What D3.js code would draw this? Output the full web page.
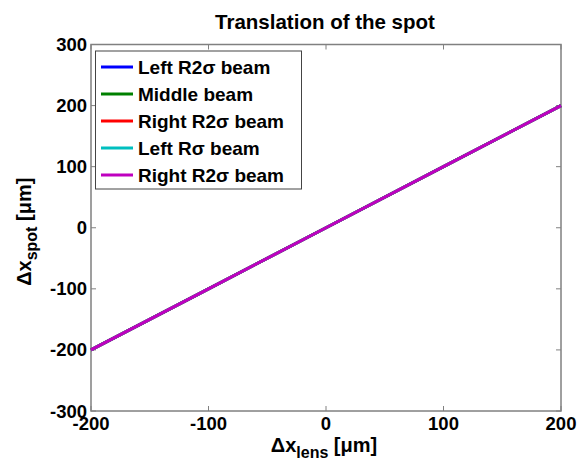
<!DOCTYPE html>
<html><head><meta charset="utf-8">
<script src="https://cdn.jsdelivr.net/npm/d3@7"></script>
<style>body{margin:0;background:#fff}svg{display:block}text{font-family:"Liberation Sans",Arial,sans-serif;font-weight:bold;fill:#000}</style>
</head><body>
<script>
const xValues = [-200, -100, 0, 100, 200];
const seriesNames = ["Left R2σ beam", "Middle beam", "Right R2σ beam", "Left Rσ beam", "Right R2σ beam"];
const seriesColors = ["#0000ff", "#008000", "#ff0000", "#00bfbf", "#bf00bf"];
const leftR2 = [-200, -100, 0, 100, 200];
const middle = [-200, -100, 0, 100, 200];
const rightR2 = [-200, -100, 0, 100, 200];
const leftR1 = [-200, -100, 0, 100, 200];
const rightR2b = [-200, -100, 0, 100, 200];
const seriesValues = [leftR2, middle, rightR2, leftR1, rightR2b];
const xTicks = [-200, -100, 0, 100, 200];
const yTicks = [-300, -200, -100, 0, 100, 200, 300];

const W = 578, H = 465;
const m = {l: 91, r: 561, t: 44.5, b: 411};
const svg = d3.select("body").append("svg").attr("width", W).attr("height", H);
const x = d3.scaleLinear().domain([-200, 200]).range([m.l, m.r]);
const y = d3.scaleLinear().domain([-300, 300]).range([m.b, m.t]);

const axisColor = "#808080";
const g = svg.append("g");
xTicks.forEach(t => {
  g.append("line").attr("x1", x(t)).attr("x2", x(t)).attr("y1", m.b).attr("y2", m.b - 5).attr("stroke", axisColor);
  g.append("line").attr("x1", x(t)).attr("x2", x(t)).attr("y1", m.t).attr("y2", m.t + 5).attr("stroke", axisColor);
  g.append("text").attr("x", x(t)).attr("y", m.b + 19).attr("text-anchor", "middle").style("font-size", "18.5px").text(t);
});
yTicks.forEach(t => {
  g.append("line").attr("x1", m.l).attr("x2", m.l + 5).attr("y1", y(t)).attr("y2", y(t)).attr("stroke", axisColor);
  g.append("line").attr("x1", m.r).attr("x2", m.r - 5).attr("y1", y(t)).attr("y2", y(t)).attr("stroke", axisColor);
  g.append("text").attr("x", m.l - 4).attr("y", y(t) + 6.5).attr("text-anchor", "end").style("font-size", "18.5px").text(t);
});
g.append("rect").attr("x", m.l).attr("y", m.t).attr("width", m.r - m.l).attr("height", m.b - m.t)
  .attr("fill", "none").attr("stroke", axisColor).attr("stroke-width", 1.5);

const line = d3.line().x((d, i) => x(xValues[i])).y(d => y(d));
seriesValues.forEach((vals, i) => {
  svg.append("path").datum(vals).attr("d", line).attr("fill", "none")
    .attr("stroke", seriesColors[i]).attr("stroke-width", 3);
});

svg.append("text").attr("x", (m.l + m.r) / 2 - 1).attr("y", 29).attr("text-anchor", "middle").style("font-size", "20.5px").text("Translation of the spot");

const xl = svg.append("text").attr("x", (m.l + m.r) / 2 - 2).attr("y", 452).attr("text-anchor", "middle").style("font-size", "20px");
xl.append("tspan").text("Δx");
xl.append("tspan").attr("dy", 6).style("font-size", "16px").text("lens");
xl.append("tspan").attr("dy", -6).text(" [μm]");

const yl = svg.append("text").attr("transform", `translate(31,${(m.t + m.b) / 2 + 4}) rotate(-90)`).attr("text-anchor", "middle").style("font-size", "20px");
yl.append("tspan").text("Δx");
yl.append("tspan").attr("dy", 6).style("font-size", "16px").text("spot");
yl.append("tspan").attr("dy", -6).text(" [μm]");

const lg = svg.append("g");
lg.append("rect").attr("x", 95.5).attr("y", 51).attr("width", 206).attr("height", 138)
  .attr("fill", "#fff").attr("stroke", "#444").attr("stroke-width", 1);
seriesNames.forEach((n, i) => {
  const cy = 67 + i * 27;
  lg.append("line").attr("x1", 101).attr("x2", 133).attr("y1", cy).attr("y2", cy).attr("stroke", seriesColors[i]).attr("stroke-width", 3);
  lg.append("text").attr("x", 138).attr("y", cy + 7).style("font-size", "19px").text(n);
});
</script>
</body></html>
